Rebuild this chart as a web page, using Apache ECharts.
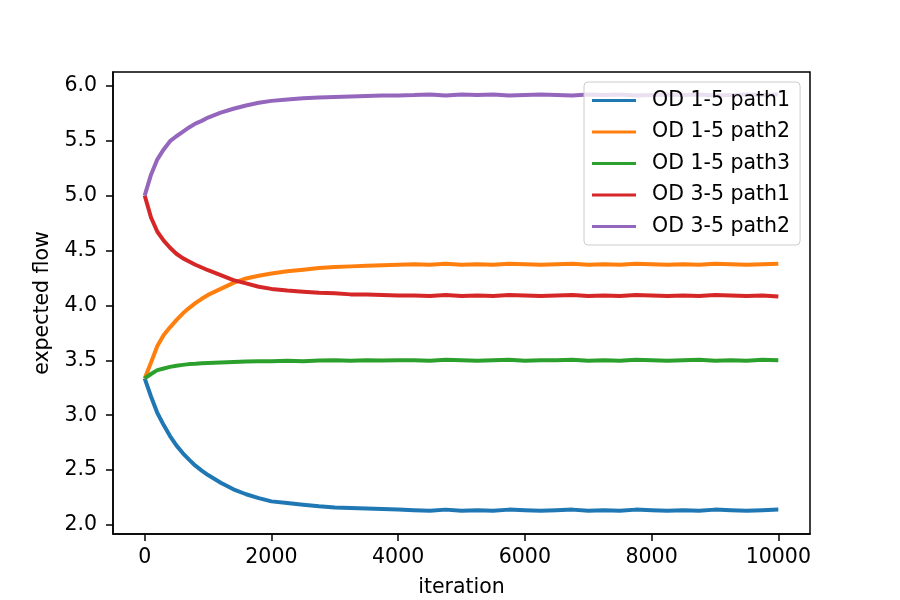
<!DOCTYPE html>
<html>
<head>
<meta charset="utf-8">
<script src="https://cdn.jsdelivr.net/npm/echarts@6/dist/echarts.min.js"></script>
<style>
  html, body { margin: 0; padding: 0; background: #fff; }
  #main { width: 900px; height: 600px; }
</style>
</head>
<body>
<div id="main"></div>
<script>
var iterations = [0, 100, 200, 300, 400, 500, 600, 700, 800, 900, 1000, 1200, 1400, 1600, 1800, 2000,
    2250, 2500, 2750, 3000, 3250, 3500, 3750, 4000,
    4250, 4500, 4750, 5000, 5250, 5500, 5750, 6000, 6250, 6500, 6750, 7000,
    7250, 7500, 7750, 8000, 8250, 8500, 8750, 9000, 9250, 9500, 9750, 10000];

var od15path1 = [3.335, 3.17, 3.02, 2.91, 2.81, 2.725, 2.655, 2.595, 2.54, 2.495, 2.455, 2.385, 2.325, 2.28, 2.245, 2.215,
    2.20, 2.185, 2.17, 2.16, 2.155, 2.15, 2.145, 2.14,
    2.135, 2.13, 2.14, 2.13, 2.135, 2.13, 2.14, 2.135, 2.13, 2.135, 2.14, 2.13,
    2.135, 2.13, 2.14, 2.135, 2.13, 2.135, 2.13, 2.14, 2.135, 2.13, 2.135, 2.14];
var od15path2 = [3.335, 3.48, 3.63, 3.73, 3.80, 3.865, 3.925, 3.975, 4.02, 4.06, 4.095, 4.15, 4.205, 4.245, 4.27, 4.29,
    4.31, 4.325, 4.34, 4.35, 4.355, 4.36, 4.365, 4.37,
    4.375, 4.37, 4.38, 4.37, 4.375, 4.37, 4.38, 4.375, 4.37, 4.375, 4.38, 4.37,
    4.375, 4.37, 4.38, 4.375, 4.37, 4.375, 4.37, 4.38, 4.375, 4.37, 4.375, 4.38];
var od15path3 = [3.335, 3.375, 3.41, 3.425, 3.44, 3.45, 3.458, 3.465, 3.468, 3.472, 3.475, 3.48, 3.485, 3.488, 3.49, 3.492,
    3.495, 3.49, 3.497, 3.50, 3.495, 3.50, 3.497, 3.50,
    3.50, 3.495, 3.505, 3.50, 3.495, 3.50, 3.505, 3.495, 3.50, 3.50, 3.505, 3.495,
    3.50, 3.495, 3.505, 3.50, 3.495, 3.50, 3.505, 3.495, 3.50, 3.495, 3.505, 3.50];
var od35path1 = [5.0, 4.80, 4.67, 4.59, 4.525, 4.47, 4.43, 4.40, 4.37, 4.345, 4.32, 4.275, 4.23, 4.20, 4.17, 4.15,
    4.135, 4.125, 4.115, 4.11, 4.10, 4.10, 4.095, 4.09,
    4.09, 4.085, 4.095, 4.085, 4.09, 4.085, 4.095, 4.09, 4.085, 4.09, 4.095, 4.085,
    4.09, 4.085, 4.095, 4.09, 4.085, 4.09, 4.085, 4.095, 4.09, 4.085, 4.09, 4.08];
var od35path2 = [5.0, 5.19, 5.33, 5.42, 5.495, 5.54, 5.58, 5.62, 5.655, 5.68, 5.71, 5.755, 5.79, 5.82, 5.845, 5.862,
    5.875, 5.885, 5.892, 5.898, 5.902, 5.906, 5.91, 5.912,
    5.915, 5.92, 5.91, 5.92, 5.915, 5.92, 5.91, 5.915, 5.92, 5.915, 5.91, 5.92,
    5.915, 5.92, 5.91, 5.915, 5.92, 5.915, 5.92, 5.91, 5.915, 5.92, 5.915, 5.92];

var seriesNames = ['OD 1-5 path1', 'OD 1-5 path2', 'OD 1-5 path3', 'OD 3-5 path1', 'OD 3-5 path2'];
var seriesColors = ['#1f77b4', '#ff7f0e', '#2ca02c', '#d62728', '#9467bd'];
var xTicks = [0, 2000, 4000, 6000, 8000, 10000];
var yTicks = [2.0, 2.5, 3.0, 3.5, 4.0, 4.5, 5.0, 5.5, 6.0];

var font = 'DejaVu Sans';

var pairs = function (vals) {
    return iterations.map(function (it, i) { return [it, vals[i]]; });
};

var myChart = echarts.init(document.getElementById('main'));
var allValues = [od15path1, od15path2, od15path3, od35path1, od35path2];

var option = {
    animation: false,
    grid: {
        left: 113,
        right: 90,
        top: 72,
        bottom: 66,
        outerBoundsMode: 'none',
        show: true,
        borderColor: '#000',
        borderWidth: 1.5,
        backgroundColor: 'transparent'
    },
    legend: {
        orient: 'vertical',
        left: 584,
        top: 82,
        padding: [8, 10, 8, 8],
        icon: 'rect',
        itemWidth: 44,
        itemHeight: 3,
        itemGap: 10.5,
        backgroundColor: 'rgba(255,255,255,0.8)',
        borderColor: '#cccccc',
        borderWidth: 1,
        borderRadius: 4,
        textStyle: {
            fontFamily: font,
            fontSize: 20.5,
            color: '#000',
            padding: [0, 0, 0, 11]
        },
        data: seriesNames
    },
    xAxis: {
        type: 'value',
        min: -500,
        max: 10500,
        name: 'iteration',
        nameLocation: 'middle',
        nameGap: 43,
        nameTextStyle: { fontFamily: font, fontSize: 20.5, color: '#000' },
        axisLine: { show: true, onZero: false, lineStyle: { color: '#000', width: 1.5 } },
        axisTick: { show: true, length: 7, lineStyle: { color: '#000', width: 1.5 }, customValues: xTicks },
        axisLabel: {
            fontFamily: font, fontSize: 20.5, color: '#000', margin: 13, customValues: xTicks,
            formatter: function (v) { return String(v); }
        },
        splitLine: { show: false }
    },
    yAxis: {
        type: 'value',
        min: 1.918,
        max: 6.125,
        name: 'expected flow',
        nameLocation: 'middle',
        nameGap: 60,
        nameMoveOverlap: false,
        nameTextStyle: { fontFamily: font, fontSize: 20.5, color: '#000' },
        axisLine: { show: true, onZero: false, lineStyle: { color: '#000', width: 1.5 } },
        axisTick: { show: true, length: 7, lineStyle: { color: '#000', width: 1.5 }, customValues: yTicks },
        axisLabel: {
            fontFamily: font, fontSize: 20.5, color: '#000', margin: 16, customValues: yTicks,
            formatter: function (v) { return v.toFixed(1); }
        },
        splitLine: { show: false }
    },
    series: seriesNames.map(function (name, i) {
        return {
            name: name,
            type: 'line',
            symbol: 'none',
            data: pairs(allValues[i]),
            lineStyle: { color: seriesColors[i], width: 4 },
            itemStyle: { color: seriesColors[i] }
        };
    })
};

myChart.setOption(option);
</script>
</body>
</html>
